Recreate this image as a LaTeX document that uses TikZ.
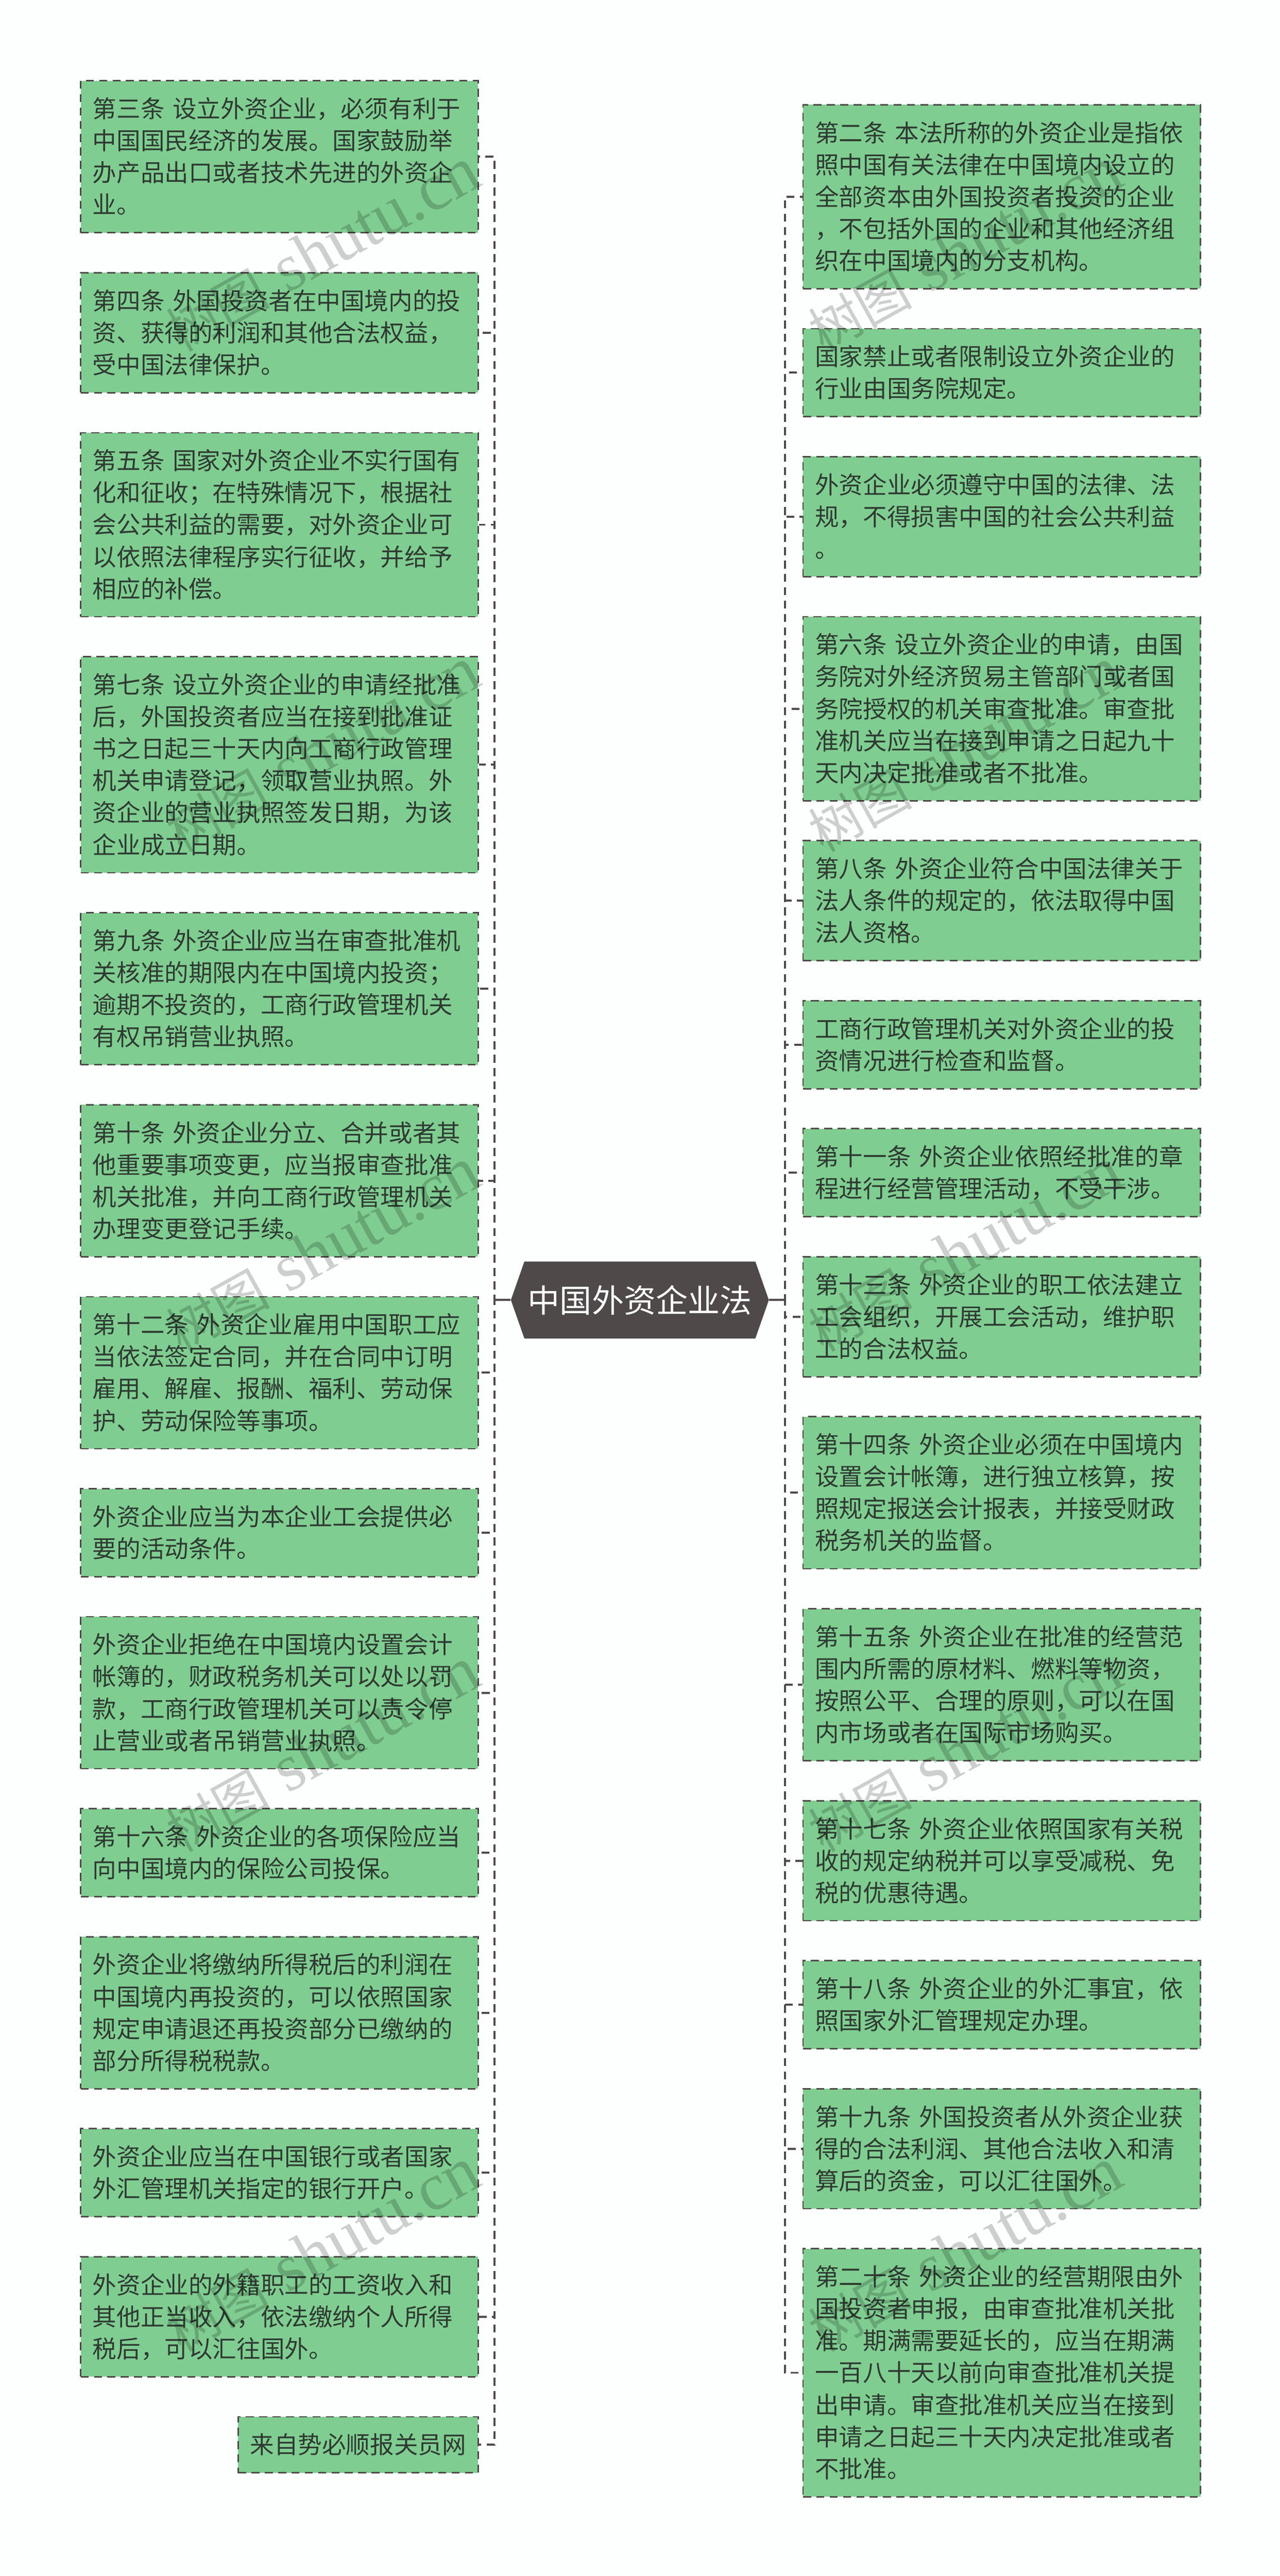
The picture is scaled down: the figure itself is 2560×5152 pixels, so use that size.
\documentclass[tikz,border=0pt]{standalone}
\usepackage{fontspec}
\usepackage{xcolor}
\usepackage{tikz}
\setmainfont{Noto Sans CJK SC}[WordSpace=1.49]
\newfontfamily\wmlatin{Liberation Serif}
\definecolor{pagebg}{HTML}{FDFFFE}
\definecolor{leaffill}{HTML}{80CD91}
\definecolor{leafink}{HTML}{2E3A32}
\definecolor{rootfill}{HTML}{4F4949}
\newcommand{\ls}{\rule[-3.5pt]{0pt}{16pt}}
\newcommand{\wmtext}{树图\hspace{9pt}{\wmlatin\fontsize{33.5pt}{34pt}\selectfont shutu.cn}}
\tikzset{leafbox/.style={draw=rootfill, fill=leaffill, text=leafink, line width=0.7pt, dash pattern=on 4pt off 2.67pt, anchor=north west, align=left, text width=186.75pt, inner xsep=6pt, inner ysep=0pt, minimum height=#1*16pt+12pt, font=\fontsize{12pt}{16pt}\selectfont, execute at begin node=\ls, execute at end node=\ls}}
\tikzset{rootbox/.style={text=white, inner sep=0pt, minimum width=129pt, minimum height=38.5pt, font=\fontsize{16pt}{20pt}\selectfont}}
\tikzset{leaflink/.style={draw=rootfill, line width=1pt, dash pattern=on 4pt off 2.67pt}}
\tikzset{rootlink/.style={draw=rootfill, line width=1pt}}
\tikzset{wmark/.style={rotate=29, inner sep=0pt, text=black, text opacity=0.19, font=\fontsize{26pt}{34pt}\selectfont}}

\begin{document}
\begin{tikzpicture}[x=0.25pt, y=-0.25pt]
    \useasboundingbox[fill=pagebg] (0,0) rectangle (2560,5152);

    \fill[rootfill] (1022,2600) -- (1049,2523) -- (1511,2523) -- (1538,2600) -- (1511,2677) -- (1049,2677) -- cycle;
    \node[rootbox] (root) at (1280,2600) {中国外资企业法};
    \coordinate (ltrunk) at (989,2600);
    \coordinate (rtrunk) at (1570,2600);

    \node[leafbox=4] (law3) at (160,160) {第三条 设立外资企业，必须有利于\\中国国民经济的发展。国家鼓励举\\办产品出口或者技术先进的外资企\\业。};
    \node[leafbox=3] (law4) at (160,544) {第四条 外国投资者在中国境内的投\\资、获得的利润和其他合法权益，\\受中国法律保护。};
    \node[leafbox=5] (law5) at (160,864) {第五条 国家对外资企业不实行国有\\化和征收；在特殊情况下，根据社\\会公共利益的需要，对外资企业可\\以依照法律程序实行征收，并给予\\相应的补偿。};
    \node[leafbox=6] (law7) at (160,1312) {第七条 设立外资企业的申请经批准\\后，外国投资者应当在接到批准证\\书之日起三十天内向工商行政管理\\机关申请登记，领取营业执照。外\\资企业的营业执照签发日期，为该\\企业成立日期。};
    \node[leafbox=4] (law9) at (160,1824) {第九条 外资企业应当在审查批准机\\关核准的期限内在中国境内投资；\\逾期不投资的，工商行政管理机关\\有权吊销营业执照。};
    \node[leafbox=4] (law10) at (160,2208) {第十条 外资企业分立、合并或者其\\他重要事项变更，应当报审查批准\\机关批准，并向工商行政管理机关\\办理变更登记手续。};
    \node[leafbox=4] (law12) at (160,2592) {第十二条 外资企业雇用中国职工应\\当依法签定合同，并在合同中订明\\雇用、解雇、报酬、福利、劳动保\\护、劳动保险等事项。};
    \node[leafbox=2] (union) at (160,2976) {外资企业应当为本企业工会提供必\\要的活动条件。};
    \node[leafbox=4] (refuse) at (160,3232) {外资企业拒绝在中国境内设置会计\\帐簿的，财政税务机关可以处以罚\\款，工商行政管理机关可以责令停\\止营业或者吊销营业执照。};
    \node[leafbox=2] (law16) at (160,3616) {第十六条 外资企业的各项保险应当\\向中国境内的保险公司投保。};
    \node[leafbox=4] (reinvest) at (160,3872) {外资企业将缴纳所得税后的利润在\\中国境内再投资的，可以依照国家\\规定申请退还再投资部分已缴纳的\\部分所得税税款。};
    \node[leafbox=2] (bank) at (160,4256) {外资企业应当在中国银行或者国家\\外汇管理机关指定的银行开户。};
    \node[leafbox=3] (wages) at (160,4512) {外资企业的外籍职工的工资收入和\\其他正当收入，依法缴纳个人所得\\税后，可以汇往国外。};
    \node[leafbox=1, text width=108pt] (source) at (475,4832) {来自势必顺报关员网};

    \node[leafbox=5] (law2) at (1605,208) {第二条 本法所称的外资企业是指依\\照中国有关法律在中国境内设立的\\全部资本由外国投资者投资的企业\\，不包括外国的企业和其他经济组\\织在中国境内的分支机构。};
    \node[leafbox=2] (banned) at (1605,656) {国家禁止或者限制设立外资企业的\\行业由国务院规定。};
    \node[leafbox=3] (obey) at (1605,912) {外资企业必须遵守中国的法律、法\\规，不得损害中国的社会公共利益\\。};
    \node[leafbox=5] (law6) at (1605,1232) {第六条 设立外资企业的申请，由国\\务院对外经济贸易主管部门或者国\\务院授权的机关审查批准。审查批\\准机关应当在接到申请之日起九十\\天内决定批准或者不批准。};
    \node[leafbox=3] (law8) at (1605,1680) {第八条 外资企业符合中国法律关于\\法人条件的规定的，依法取得中国\\法人资格。};
    \node[leafbox=2] (inspect) at (1605,2000) {工商行政管理机关对外资企业的投\\资情况进行检查和监督。};
    \node[leafbox=2] (law11) at (1605,2256) {第十一条 外资企业依照经批准的章\\程进行经营管理活动，不受干涉。};
    \node[leafbox=3] (law13) at (1605,2512) {第十三条 外资企业的职工依法建立\\工会组织，开展工会活动，维护职\\工的合法权益。};
    \node[leafbox=4] (law14) at (1605,2832) {第十四条 外资企业必须在中国境内\\设置会计帐簿，进行独立核算，按\\照规定报送会计报表，并接受财政\\税务机关的监督。};
    \node[leafbox=4] (law15) at (1605,3216) {第十五条 外资企业在批准的经营范\\围内所需的原材料、燃料等物资，\\按照公平、合理的原则，可以在国\\内市场或者在国际市场购买。};
    \node[leafbox=3] (law17) at (1605,3600) {第十七条 外资企业依照国家有关税\\收的规定纳税并可以享受减税、免\\税的优惠待遇。};
    \node[leafbox=2] (law18) at (1605,3920) {第十八条 外资企业的外汇事宜，依\\照国家外汇管理规定办理。};
    \node[leafbox=3] (law19) at (1605,4176) {第十九条 外国投资者从外资企业获\\得的合法利润、其他合法收入和清\\算后的资金，可以汇往国外。};
    \node[leafbox=7] (law20) at (1605,4496) {第二十条 外资企业的经营期限由外\\国投资者申报，由审查批准机关批\\准。期满需要延长的，应当在期满\\一百八十天以前向审查批准机关提\\出申请。审查批准机关应当在接到\\申请之日起三十天内决定批准或者\\不批准。};

    \draw[rootlink] (root.west) -- (ltrunk);
    \draw[rootlink] (root.east) -- (rtrunk);

    \draw[leaflink] (root.west) -- (ltrunk) |- (law3.east);
    \draw[leaflink] (root.west) -- (ltrunk) |- (law4.east);
    \draw[leaflink] (root.west) -- (ltrunk) |- (law5.east);
    \draw[leaflink] (root.west) -- (ltrunk) |- (law7.east);
    \draw[leaflink] (root.west) -- (ltrunk) |- (law9.east);
    \draw[leaflink] (root.west) -- (ltrunk) |- (law10.east);
    \draw[leaflink] (root.west) -- (ltrunk) |- (law12.east);
    \draw[leaflink] (root.west) -- (ltrunk) |- (union.east);
    \draw[leaflink] (root.west) -- (ltrunk) |- (refuse.east);
    \draw[leaflink] (root.west) -- (ltrunk) |- (law16.east);
    \draw[leaflink] (root.west) -- (ltrunk) |- (reinvest.east);
    \draw[leaflink] (root.west) -- (ltrunk) |- (bank.east);
    \draw[leaflink] (root.west) -- (ltrunk) |- (wages.east);
    \draw[leaflink] (root.west) -- (ltrunk) |- (source.east);

    \draw[leaflink] (root.east) -- (rtrunk) |- (law2.west);
    \draw[leaflink] (root.east) -- (rtrunk) |- (banned.west);
    \draw[leaflink] (root.east) -- (rtrunk) |- (obey.west);
    \draw[leaflink] (root.east) -- (rtrunk) |- (law6.west);
    \draw[leaflink] (root.east) -- (rtrunk) |- (law8.west);
    \draw[leaflink] (root.east) -- (rtrunk) |- (inspect.west);
    \draw[leaflink] (root.east) -- (rtrunk) |- (law11.west);
    \draw[leaflink] (root.east) -- (rtrunk) |- (law13.west);
    \draw[leaflink] (root.east) -- (rtrunk) |- (law14.west);
    \draw[leaflink] (root.east) -- (rtrunk) |- (law15.west);
    \draw[leaflink] (root.east) -- (rtrunk) |- (law17.west);
    \draw[leaflink] (root.east) -- (rtrunk) |- (law18.west);
    \draw[leaflink] (root.east) -- (rtrunk) |- (law19.west);
    \draw[leaflink] (root.east) -- (rtrunk) |- (law20.west);

    % watermarks
    \node[wmark] (wma) at (645,500) {\wmtext};
    \node[wmark] (wmb) at (645,1500) {\wmtext};
    \node[wmark] (wmc) at (645,2500) {\wmtext};
    \node[wmark] (wmd) at (645,3500) {\wmtext};
    \node[wmark] (wme) at (645,4500) {\wmtext};
    \node[wmark] (wmf) at (1930,500) {\wmtext};
    \node[wmark] (wmg) at (1930,1500) {\wmtext};
    \node[wmark] (wmh) at (1930,2500) {\wmtext};
    \node[wmark] (wmi) at (1930,3500) {\wmtext};
    \node[wmark] (wmj) at (1930,4500) {\wmtext};
\end{tikzpicture}
\end{document}
